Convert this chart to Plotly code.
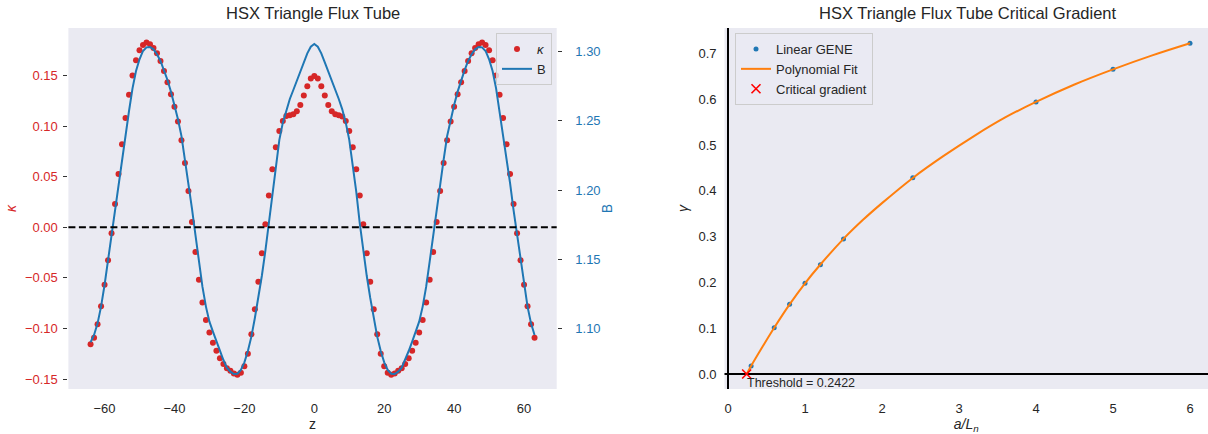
import plotly.graph_objects as go

# ---------------- data: left panel ----------------
z = list(range(-64, 64))
kappa = [
    -0.1156, -0.1090, -0.0958, -0.0781, -0.0567, -0.0326, -0.0059, 0.0231, 0.0527, 0.0820,
    0.1080, 0.1310, 0.1500, 0.1650, 0.1750, 0.1800, 0.1825, 0.1808, 0.1772, 0.1720,
    0.1644, 0.1545, 0.1433, 0.1314, 0.1192, 0.1044, 0.0860, 0.0636, 0.0359, 0.0053,
    -0.0244, -0.0517, -0.0744, -0.0916, -0.1040, -0.1140, -0.1220, -0.1294, -0.1350, -0.1393,
    -0.1416, -0.1443, -0.1456, -0.1436, -0.1373, -0.1248, -0.1057, -0.0810, -0.0537, -0.0257,
    0.0030, 0.0313, 0.0573, 0.0791, 0.0952, 0.1051, 0.1100, 0.1107, 0.1117, 0.1146,
    0.1209, 0.1301, 0.1393, 0.1469, 0.1495,
    0.1469, 0.1393, 0.1301, 0.1209, 0.1146, 0.1117, 0.1107, 0.1094, 0.1051, 0.0952,
    0.0791, 0.0573, 0.0313, 0.0030, -0.0257, -0.0537, -0.0810, -0.1057, -0.1248, -0.1373,
    -0.1436, -0.1456, -0.1443, -0.1416, -0.1393, -0.1350, -0.1294, -0.1220, -0.1140, -0.1040,
    -0.0916, -0.0744, -0.0517, -0.0244, 0.0053, 0.0359, 0.0636, 0.0860, 0.1044, 0.1192,
    0.1314, 0.1433, 0.1545, 0.1644, 0.1720, 0.1772, 0.1808, 0.1825, 0.1800, 0.1750,
    0.1650, 0.1500, 0.1310, 0.1080, 0.0820, 0.0527, 0.0231, -0.0059, -0.0326, -0.0567,
    -0.0781, -0.0958, -0.1090,
]
B = [
    1.0899, 1.0952, 1.1036, 1.1157, 1.1313, 1.1494, 1.1675, 1.1855, 1.2050, 1.2236,
    1.2410, 1.2571, 1.2735, 1.2860, 1.2945, 1.3005, 1.3031, 1.3034, 1.3017, 1.2981,
    1.2933, 1.2867, 1.2795, 1.2711, 1.2614, 1.2511, 1.2390, 1.2220, 1.2060, 1.1867,
    1.1675, 1.1482, 1.1301, 1.1157, 1.1048, 1.0976, 1.0904, 1.0836, 1.0771, 1.0716,
    1.0687, 1.0670, 1.0672, 1.0699, 1.0754, 1.0836, 1.0940, 1.1075, 1.1220, 1.1380,
    1.1560, 1.1760, 1.1988, 1.2193, 1.2362, 1.2487, 1.2583, 1.2658, 1.2723, 1.2788,
    1.2860, 1.2923, 1.2988, 1.3036, 1.3055,
    1.3036, 1.2988, 1.2923, 1.2860, 1.2788, 1.2723, 1.2658, 1.2583, 1.2487, 1.2362,
    1.2193, 1.1988, 1.1760, 1.1560, 1.1380, 1.1220, 1.1075, 1.0940, 1.0836, 1.0754,
    1.0699, 1.0672, 1.0670, 1.0687, 1.0716, 1.0771, 1.0836, 1.0904, 1.0976, 1.1048,
    1.1157, 1.1301, 1.1482, 1.1675, 1.1867, 1.2060, 1.2220, 1.2390, 1.2511, 1.2614,
    1.2711, 1.2795, 1.2867, 1.2933, 1.2981, 1.3017, 1.3034, 1.3031, 1.3005, 1.2945,
    1.2860, 1.2735, 1.2571, 1.2410, 1.2236, 1.2050, 1.1855, 1.1675, 1.1494, 1.1313,
    1.1157, 1.1036, 1.0952,
]
z_ticks = [-60, -40, -20, 0, 20, 40, 60]
kappa_ticks = [-0.15, -0.10, -0.05, 0.00, 0.05, 0.10, 0.15]
B_ticks = [1.10, 1.15, 1.20, 1.25, 1.30]

# ---------------- data: right panel ----------------
a_Ln = [0.3, 0.6, 0.8, 1.0, 1.2, 1.5, 2.4, 4.0, 5.0, 6.0]
gamma = [0.0175, 0.1011, 0.152, 0.198, 0.2387, 0.2947, 0.4286, 0.5938, 0.665, 0.7218]
fit_x = [0.2422, 0.3, 0.45, 0.6, 0.8, 1.0, 1.2, 1.5, 1.75, 2.0, 2.4, 2.8, 3.2, 3.6, 4.0, 4.5, 5.0, 5.5, 6.0]
fit_y = [0.0, 0.0175, 0.060, 0.101, 0.152, 0.198, 0.239, 0.295, 0.336, 0.373, 0.428, 0.476,
         0.520, 0.560, 0.594, 0.632, 0.665, 0.695, 0.722]
threshold = 0.2422
grad_ticks = [0, 1, 2, 3, 4, 5, 6]
gamma_ticks = [0.0, 0.1, 0.2, 0.3, 0.4, 0.5, 0.6, 0.7]


def fmt(v, nd):
    s = f"{abs(v):.{nd}f}"
    return ("\u2212" + s) if v < 0 else s


RED = "#d62728"
BLUE = "#1f77b4"
ORANGE = "#ff7f0e"
BG = "#EAEAF2"
TXT = "#262626"
FONT = "Arial, Liberation Sans, sans-serif"

W, H = 1208, 434
MT, MB = 28, 45
PH = H - MT - MB

fig = go.Figure()

fig.add_trace(go.Scatter(x=z, y=kappa, mode="markers", name="<i>κ</i>",
                         marker=dict(color=RED, size=6), xaxis="x", yaxis="y", legend="legend"))
fig.add_trace(go.Scatter(x=z, y=B, mode="lines", name="B",
                         line=dict(color=BLUE, width=2), xaxis="x", yaxis="y2", legend="legend"))

fig.add_trace(go.Scatter(x=a_Ln, y=gamma, mode="markers", name="Linear GENE",
                         marker=dict(color=BLUE, size=5), xaxis="x2", yaxis="y3", legend="legend2"))
fig.add_trace(go.Scatter(x=fit_x, y=fit_y, mode="lines", name="Polynomial Fit",
                         line=dict(color=ORANGE, width=2, shape="spline"), xaxis="x2", yaxis="y3",
                         legend="legend2"))
fig.add_trace(go.Scatter(x=[threshold], y=[0.0], mode="markers", name="Critical gradient",
                         marker=dict(symbol="x-thin", size=9, line=dict(color="red", width=1.6)),
                         xaxis="x2", yaxis="y3", legend="legend2"))

xd1 = [68.4 / W, 556.7 / W]
xd2 = [724.5 / W, 1.0]

fig.update_layout(
    width=W, height=H,
    margin=dict(l=0, r=0, t=MT, b=MB),
    paper_bgcolor="white",
    plot_bgcolor=BG,
    font=dict(family=FONT, size=13, color=TXT),
    xaxis=dict(domain=xd1, range=[-70.34, 69.34], tickvals=z_ticks,
               ticktext=[fmt(v, 0) for v in z_ticks], ticks="", ticklabelstandoff=10,
               showgrid=False, zeroline=False, showline=False,
               title=dict(text="z", font=dict(size=14), standoff=3),
               tickfont=dict(size=13, color=TXT)),
    yaxis=dict(range=[-0.15973, 0.19688], tickvals=kappa_ticks,
               ticktext=[fmt(v, 2) for v in kappa_ticks], ticks="outside",
               ticklen=4, tickcolor="#333333", ticklabelstandoff=3,
               showgrid=False, zeroline=False, showline=False,
               tickfont=dict(size=13, color=RED),
               title=dict(text="<i>κ</i>", font=dict(size=14, color=RED), standoff=4)),
    yaxis2=dict(range=[1.05614, 1.31711], tickvals=B_ticks,
                ticktext=[fmt(v, 2) for v in B_ticks], overlaying="y",
                side="right", anchor="x", ticks="outside", ticklen=4, tickcolor="#333333",
                ticklabelstandoff=11,
                showgrid=False, zeroline=False, showline=False,
                tickfont=dict(size=13, color=BLUE),
                title=dict(text="B", font=dict(size=14, color=BLUE), standoff=2)),
    xaxis2=dict(domain=xd2, range=[-0.0455, 6.2338], anchor="y3", tickvals=grad_ticks,
                ticktext=[fmt(v, 0) for v in grad_ticks], ticks="", ticklabelstandoff=10,
                showgrid=False, zeroline=False, showline=False,
                tickfont=dict(size=13, color=TXT),
                title=dict(text="<i>a/L<sub>n</sub></i>", font=dict(size=14), standoff=1)),
    yaxis3=dict(range=[-0.03274, 0.75529], anchor="x2", tickvals=gamma_ticks,
                ticktext=[fmt(v, 1) for v in gamma_ticks], ticks="", ticklabelstandoff=7,
                showgrid=False, zeroline=False, showline=False,
                tickfont=dict(size=13, color=TXT),
                title=dict(text="<i>γ</i>", font=dict(size=14), standoff=6)),
    legend=dict(x=552 / W, xanchor="right", y=1 - 5 / PH, yanchor="top",
                bgcolor="rgba(234,234,242,0.8)", bordercolor="#cccccc", borderwidth=1,
                font=dict(size=13, color=TXT)),
    legend2=dict(x=735 / W, xanchor="left", y=1 - 5 / PH, yanchor="top",
                 bgcolor="rgba(234,234,242,0.8)", bordercolor="#cccccc", borderwidth=1,
                 font=dict(size=13, color=TXT)),
)

# reference lines
fig.add_shape(type="line", xref="x domain", x0=0, x1=1, yref="y", y0=0, y1=0,
              line=dict(color="black", width=2, dash="7px,3.5px"), layer="above")
fig.add_shape(type="line", xref="x2 domain", x0=0, x1=1, yref="y3", y0=0, y1=0,
              line=dict(color="black", width=2), layer="below")
fig.add_shape(type="line", xref="x2", x0=0, x1=0, yref="y3 domain", y0=0, y1=1,
              line=dict(color="black", width=2), layer="below")

# titles and annotation
fig.add_annotation(text="HSX Triangle Flux Tube", xref="paper", yref="paper",
                   x=(xd1[0] + xd1[1]) / 2, y=1 + 15 / PH, xanchor="center", yanchor="middle",
                   showarrow=False, font=dict(size=16.5, color=TXT))
fig.add_annotation(text="HSX Triangle Flux Tube Critical Gradient", xref="paper", yref="paper",
                   x=968 / W, y=1 + 15 / PH, xanchor="center", yanchor="middle",
                   showarrow=False, font=dict(size=16.5, color=TXT))
fig.add_annotation(text=f"Threshold = {threshold:.4f}", xref="x2", yref="y3",
                   x=threshold, y=0, xanchor="left", yanchor="top", showarrow=False,
                   xshift=-2, yshift=0, font=dict(size=12.5, color=TXT))

fig.write_html("out.html")
